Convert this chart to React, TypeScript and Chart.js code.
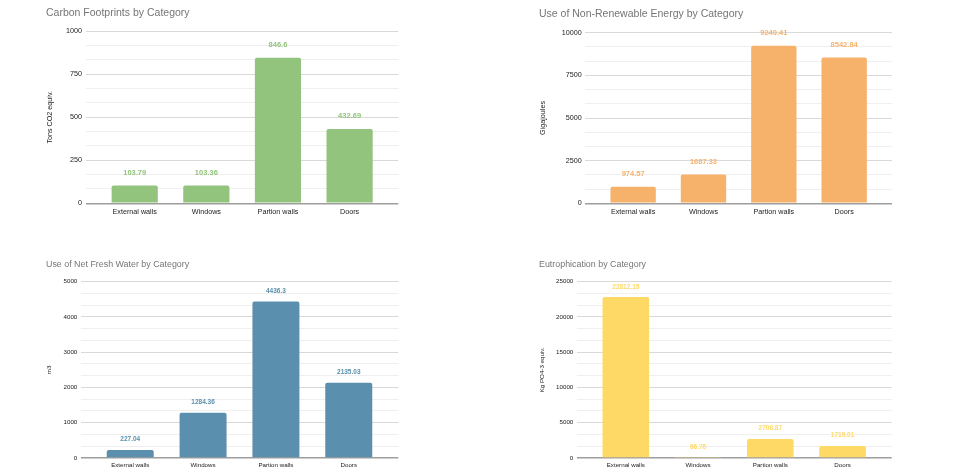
import React, { useEffect, useRef } from "react";
import { Chart, registerables } from "chart.js";

Chart.register(...registerables);

// ---------- data ----------
const categories = ["External walls", "Windows", "Partion walls", "Doors"];

const carbonValues = [103.79, 103.36, 846.6, 432.69];
const energyValues = [974.57, 1687.33, 9240.41, 8542.84];
const waterValues = [227.04, 1284.36, 4436.3, 2135.03];
const eutrophicationValues = [22812.15, 66.76, 2708.87, 1719.01];

const carbonTicks = [0, 250, 500, 750, 1000];
const energyTicks = [0, 2500, 5000, 7500, 10000];
const waterTicks = [0, 1000, 2000, 3000, 4000, 5000];
const eutrophicationTicks = [0, 5000, 10000, 15000, 20000, 25000];

const chartTitles = [
  "Carbon Footprints by Category",
  "Use of Non-Renewable Energy by Category",
  "Use of Net Fresh Water by Category",
  "Eutrophication by Category",
];
const axisTitles = ["Tons CO2 equiv.", "Gigajoules", "m3", "Kg PO4-3 equiv."];

// ---------- styles / layout ----------
const FONT = '"Liberation Sans", Arial, Helvetica, sans-serif';

type Panel = {
  title: string;
  axisTitle: string;
  values: number[];
  ticks: number[];
  color: string;
  left: number;
  top: number;
  width: number;
  height: number;
  padL: number;
  padR: number;
  padB: number;
  titleTop: number;
  titleBottom: number;
  titleSize: number;
  tickSize: number;
  labelSize: number;
  labelOffset: number;
  yWidth: number;
  yPad: number;
  xHeight: number;
  xPad: number;
};

const topStyle = {
  width: 480,
  height: 230,
  padB: 6.7,
  titleSize: 10.5,
  tickSize: 7.2,
  labelSize: 7.5,
  labelOffset: 12.5,
  xHeight: 20,
  xPad: 4.4,
};

const bottomStyle = {
  width: 480,
  height: 236,
  padB: 4,
  titleTop: 19.3,
  titleBottom: 11.7,
  titleSize: 8.9,
  tickSize: 6.2,
  labelSize: 6.5,
  labelOffset: 10.4,
  xHeight: 14,
  xPad: 3.6,
};

const panels: Panel[] = [
  {
    ...topStyle,
    title: chartTitles[0],
    axisTitle: axisTitles[0],
    values: carbonValues,
    ticks: carbonTicks,
    color: "#93c47d",
    left: 0,
    top: 0,
    padL: 46,
    padR: 81.7,
    titleTop: 7,
    titleBottom: 11.7,
    yWidth: 40,
    yPad: 4,
  },
  {
    ...topStyle,
    title: chartTitles[1],
    axisTitle: axisTitles[1],
    values: energyValues,
    ticks: energyTicks,
    color: "#f6b26b",
    left: 480,
    top: 0,
    padL: 59,
    padR: 68,
    titleTop: 7.7,
    titleBottom: 12.4,
    yWidth: 46.3,
    yPad: 3.6,
  },
  {
    ...bottomStyle,
    title: chartTitles[2],
    axisTitle: axisTitles[2],
    values: waterValues,
    ticks: waterTicks,
    color: "#5a8fad",
    left: 0,
    top: 240,
    padL: 46,
    padR: 81.7,
    yWidth: 34.7,
    yPad: 3.4,
  },
  {
    ...bottomStyle,
    title: chartTitles[3],
    axisTitle: axisTitles[3],
    values: eutrophicationValues,
    ticks: eutrophicationTicks,
    color: "#ffd966",
    left: 480,
    top: 240,
    padL: 59,
    padR: 68.3,
    yWidth: 37.7,
    yPad: 3.4,
  },
];

function ChartPanel({ p }: { p: Panel }) {
  const ref = useRef<HTMLCanvasElement>(null);

  useEffect(() => {
    const canvas = ref.current;
    if (!canvas) return;
    const majors = p.ticks;
    const step = majors[1] - majors[0];
    const allTicks: number[] = [];
    majors.forEach((m, i) => {
      allTicks.push(m);
      if (i < majors.length - 1) {
        allTicks.push(m + step / 3);
        allTicks.push(m + (2 * step) / 3);
      }
    });

    const valueLabels = {
      id: "valueLabels",
      afterDatasetsDraw(chart: any) {
        const ctx = chart.ctx;
        const meta = chart.getDatasetMeta(0);
        ctx.save();
        ctx.font = `bold ${p.labelSize}px ${FONT}`;
        ctx.fillStyle = p.color;
        ctx.textAlign = "center";
        ctx.textBaseline = "middle";
        meta.data.forEach((el: any, i: number) => {
          ctx.fillText(String(p.values[i]), el.x, el.y - p.labelOffset);
        });
        ctx.restore();
      },
    };

    const tickFont = { family: FONT, size: p.tickSize, lineHeight: 1.2 };

    const chart = new Chart(canvas, {
      type: "bar",
      data: {
        datasets: [
          {
            data: categories.map((_, i) => ({ x: i, y: p.values[i] })),
            backgroundColor: p.color,
            borderRadius: 2,
            categoryPercentage: 1,
            barPercentage: 0.645,
          } as any,
        ],
      },
      options: {
        responsive: false,
        animation: false,
        layout: { padding: { left: p.padL, right: p.padR, top: 0, bottom: p.padB } },
        plugins: {
          legend: { display: false },
          tooltip: { enabled: false },
          title: {
            display: true,
            text: p.title,
            align: "start",
            color: "#757575",
            font: { family: FONT, size: p.titleSize, weight: "normal", lineHeight: 1.2 },
            padding: { top: p.titleTop, bottom: p.titleBottom },
          },
        },
        scales: {
          x: {
            type: "linear",
            offset: false,
            min: -0.68,
            max: 3.68,
            grid: { display: false, drawTicks: false, offset: false },
            border: { display: false },
            afterBuildTicks: (scale: any) => {
              scale.ticks = categories.map((_, i) => ({ value: i }));
            },
            afterFit: (scale: any) => {
              scale.height = p.xHeight;
            },
            ticks: {
              autoSkip: false,
              maxRotation: 0,
              padding: p.xPad,
              color: "#222222",
              font: tickFont,
              callback: (v: any) => categories[v as number] ?? "",
            },
          },
          y: {
            type: "linear",
            min: 0,
            max: majors[majors.length - 1],
            grid: {
              drawTicks: false,
              color: (ctx: any) => {
                const v = ctx.tick ? ctx.tick.value : 0;
                if (v === 0) return "#9e9e9e";
                return majors.includes(v) ? "#d9d9d9" : "#efefef";
              },
              lineWidth: (ctx: any) => (ctx.tick && ctx.tick.value === 0 ? 1.5 : 1),
            },
            border: { display: false },
            afterBuildTicks: (scale: any) => {
              scale.ticks = allTicks.map((v) => ({ value: v }));
            },
            afterFit: (scale: any) => {
              scale.width = p.yWidth;
            },
            ticks: {
              autoSkip: false,
              padding: p.yPad,
              color: "#222222",
              font: tickFont,
              callback: (v: any) => (majors.includes(v) ? String(v) : ""),
            },
            title: {
              display: true,
              text: p.axisTitle,
              color: "#222222",
              font: tickFont,
              padding: { top: 0, bottom: 0 },
            },
          },
        },
      } as any,
      plugins: [valueLabels],
    });

    return () => chart.destroy();
  }, [p]);

  return (
    <canvas
      ref={ref}
      width={p.width}
      height={p.height}
      style={{ position: "absolute", left: p.left, top: p.top, width: p.width, height: p.height }}
    />
  );
}

export default function App() {
  return (
    <div
      style={{
        position: "absolute",
        left: 0,
        top: 0,
        width: 960,
        height: 476,
        background: "#ffffff",
        overflow: "hidden",
      }}
    >
      {panels.map((p, i) => (
        <ChartPanel key={i} p={p} />
      ))}
    </div>
  );
}
